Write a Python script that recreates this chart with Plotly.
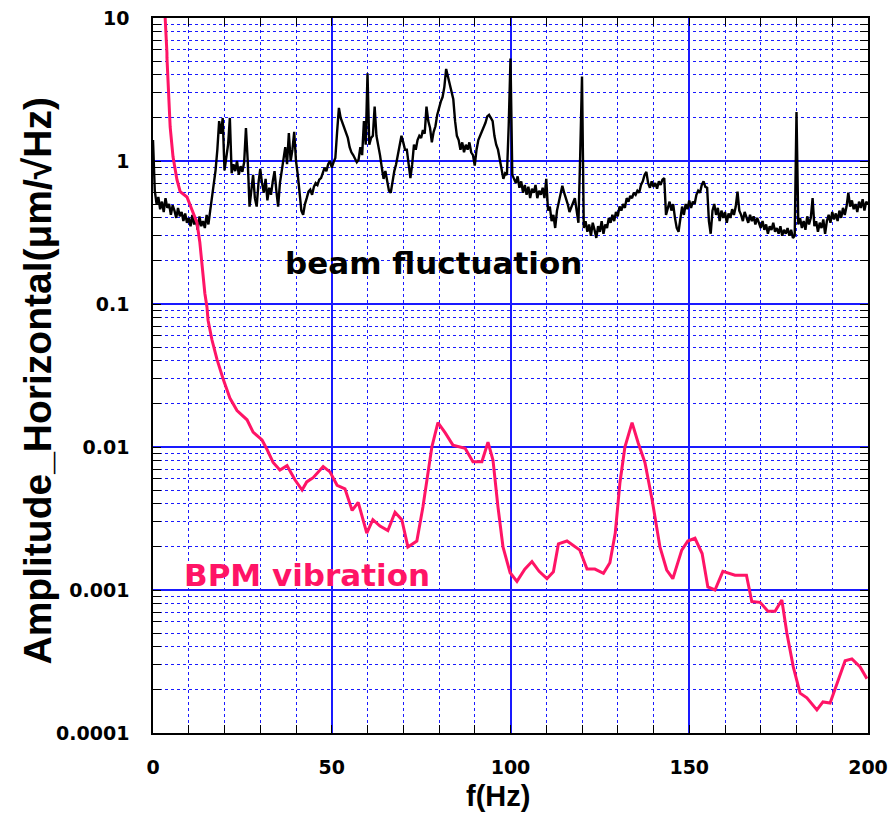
import plotly.graph_objects as go

# ---------------- data ----------------
# beam fluctuation: amplitude sampled every 0.5 Hz from 0 to 200 Hz
beam_amp = [
    1.40, 0.62, 0.50, 0.56, 0.46, 0.52, 0.44, 0.55, 0.47, 0.50, 0.42, 0.49, 0.45, 0.40, 0.47, 0.41, 0.44, 0.38, 0.43, 0.37,
    0.40, 0.35, 0.42, 0.36, 0.39, 0.33, 0.41, 0.35, 0.38, 0.34, 0.42, 0.36, 0.45, 0.55, 0.70, 0.86, 1.20, 1.90, 1.55, 2.00,
    0.86, 1.05, 1.30, 2.00, 0.82, 0.95, 0.85, 1.00, 0.80, 0.92, 0.84, 0.98, 1.70, 1.00, 0.48, 0.62, 0.80, 0.55, 0.48, 0.70,
    0.88, 0.70, 0.60, 0.75, 0.53, 0.65, 0.58, 0.72, 0.85, 0.62, 0.48, 0.70, 0.86, 1.05, 1.25, 0.95, 1.57, 1.00, 1.20, 1.60,
    1.00, 0.80, 0.60, 0.45, 0.42, 0.50, 0.55, 0.61, 0.63, 0.58, 0.66, 0.70, 0.68, 0.74, 0.76, 0.82, 0.90, 0.85, 0.95, 1.00,
    0.90, 0.98, 1.05, 1.60, 2.35, 2.00, 1.85, 1.70, 1.55, 1.45, 1.25, 1.15, 1.10, 1.05, 0.98, 1.02, 1.25, 1.10, 1.90, 1.30,
    4.10, 1.30, 1.45, 1.50, 2.40, 1.50, 1.30, 1.10, 0.90, 0.75, 0.85, 0.70, 0.62, 0.60, 0.72, 0.85, 0.95, 1.10, 1.25, 1.50,
    1.35, 1.20, 1.20, 0.95, 0.76, 0.95, 1.30, 1.20, 1.40, 1.50, 1.45, 1.65, 1.55, 2.40, 1.90, 1.70, 1.35, 1.60, 1.75, 2.10,
    2.40, 2.60, 2.80, 3.30, 4.40, 3.90, 3.50, 3.00, 2.70, 1.90, 1.50, 1.40, 1.20, 1.35, 1.15, 1.30, 1.20, 1.35, 1.15, 1.10,
    0.93, 1.20, 1.40, 1.50, 1.60, 1.70, 1.85, 2.05, 2.10, 2.00, 1.90, 1.50, 1.30, 1.20, 1.00, 0.88, 0.75, 0.82, 0.80, 1.78,
    5.20, 0.80, 0.75, 0.70, 0.78, 0.65, 0.72, 0.60, 0.68, 0.58, 0.66, 0.55, 0.64, 0.60, 0.68, 0.55, 0.62, 0.58, 0.65, 0.55,
    0.75, 0.45, 0.48, 0.38, 0.42, 0.34, 0.45, 0.52, 0.60, 0.67, 0.60, 0.55, 0.50, 0.44, 0.48, 0.52, 0.55, 0.45, 0.37, 1.10,
    3.90, 0.34, 0.38, 0.32, 0.36, 0.30, 0.37, 0.33, 0.29, 0.35, 0.32, 0.38, 0.31, 0.36, 0.34, 0.40, 0.37, 0.42, 0.38, 0.44,
    0.41, 0.48, 0.45, 0.50, 0.47, 0.55, 0.52, 0.57, 0.55, 0.60, 0.58, 0.62, 0.60, 0.68, 0.72, 0.80, 0.84, 0.70, 0.65, 0.72,
    0.66, 0.70, 0.64, 0.72, 0.68, 0.74, 0.76, 0.42, 0.47, 0.52, 0.45, 0.50, 0.40, 0.34, 0.32, 0.40, 0.48, 0.42, 0.50, 0.46,
    0.53, 0.47, 0.52, 0.50, 0.58, 0.62, 0.60, 0.68, 0.72, 0.66, 0.65, 0.38, 0.31, 0.45, 0.50, 0.42, 0.47, 0.38, 0.45, 0.40,
    0.44, 0.37, 0.43, 0.40, 0.46, 0.42, 0.48, 0.61, 0.45, 0.42, 0.38, 0.44, 0.40, 0.37, 0.42, 0.38, 0.41, 0.36, 0.40, 0.37,
    0.34, 0.38, 0.33, 0.36, 0.31, 0.35, 0.33, 0.37, 0.32, 0.34, 0.31, 0.35, 0.30, 0.33, 0.31, 0.34, 0.30, 0.33, 0.29, 0.30,
    2.20, 0.36, 0.40, 0.34, 0.38, 0.33, 0.41, 0.36, 0.40, 0.55, 0.35, 0.38, 0.32, 0.37, 0.34, 0.39, 0.31, 0.38, 0.42, 0.37,
    0.44, 0.39, 0.43, 0.38, 0.45, 0.40, 0.47, 0.42, 0.48, 0.60, 0.48, 0.53, 0.46, 0.50, 0.44, 0.52, 0.47, 0.54, 0.45, 0.52,
    0.50,
]
beam_freq = [i * 0.5 for i in range(len(beam_amp))]

# BPM vibration
bpm_freq = [3.0, 3.4, 3.9, 3.9, 4.8, 5.6, 6.7, 7.6, 9.5, 10.9, 12.3, 13.1, 14.5, 15.1, 15.4,
            16.5, 17.9, 19.6, 21.5, 23.5, 26.3, 28.0, 30.5, 31.9, 33.6, 35.5, 37.5, 39.7,
            41.7, 43.0, 44.8, 47.6, 49.5, 51.5, 53.7, 55.7, 57.4, 59.8, 61.5, 63.5, 65.7,
            67.7, 69.6, 71.3, 73.8, 75.5, 76.6, 78.0, 79.7, 81.7, 83.9, 87.3, 89.5, 92.0,
            93.7, 95.1, 96.5, 97.9, 99.9, 101.8, 104.0, 106.0, 108.0, 110.2, 112.0, 113.4,
            115.8, 119.4, 121.4, 123.6, 126.0, 127.8, 129.3, 130.6, 132.0, 134.0, 135.7,
            137.6, 139.6, 141.8, 143.7, 145.4, 147.9, 149.6, 151.6, 153.6, 155.2, 157.2,
            159.4, 162.8, 166.0, 167.5, 169.8, 172.0, 174.0, 175.9, 177.3, 179.1, 181.0,
            182.9, 185.7, 187.4, 189.4, 191.3, 193.6, 195.5, 197.8, 199.7]
bpm_amp = [12.0, 10.0, 5.7, 5.3, 1.73, 1.07, 0.74, 0.61, 0.56, 0.45, 0.37, 0.27, 0.119, 0.095, 0.077,
           0.056, 0.041, 0.030, 0.022, 0.018, 0.0155, 0.0127, 0.0112, 0.0096, 0.0078, 0.0069,
           0.0074, 0.0059, 0.0050, 0.0057, 0.0061, 0.0073, 0.0067, 0.0054, 0.0051, 0.0036,
           0.0041, 0.0025, 0.0031, 0.0028, 0.0026, 0.0035, 0.0031, 0.0020, 0.0022, 0.0038,
           0.0059, 0.0100, 0.0148, 0.0126, 0.0103, 0.0098, 0.0079, 0.0079, 0.0108, 0.0081,
           0.0038, 0.0020, 0.00132, 0.00115, 0.0014, 0.00158, 0.00135, 0.0012, 0.00134,
           0.0021, 0.0022, 0.0019, 0.0014, 0.0014, 0.00131, 0.00155, 0.0025, 0.0056, 0.0100,
           0.0148, 0.0107, 0.0078, 0.0043, 0.0020, 0.00138, 0.0012, 0.0019, 0.0022, 0.0023,
           0.0018, 0.00105, 0.0010, 0.00135, 0.00127, 0.00127, 0.00083, 0.00082, 0.00071,
           0.00071, 0.00085, 0.00050, 0.00029, 0.00019, 0.000176, 0.000145, 0.000165,
           0.000162, 0.00022, 0.00032, 0.00033, 0.00029, 0.00024]

y_tickvals = [10, 1, 0.1, 0.01, 0.001, 0.0001]
y_ticktext = ["10", "1", "0.1", "0.01", "0.001", "0.0001"]
x_tickvals = [0, 50, 100, 150, 200]

# ---------------- figure ----------------
BLUE = "#1a1aff"
PINK = "#ff1466"

fig = go.Figure()
fig.add_trace(go.Scatter(x=beam_freq, y=beam_amp, mode="lines",
                         line=dict(color="black", width=2.4), showlegend=False))
fig.add_trace(go.Scatter(x=bpm_freq, y=bpm_amp, mode="lines",
                         line=dict(color=PINK, width=3), showlegend=False))

fig.add_annotation(x=36.4, y=-0.713, xref="x", yref="y", text="<b>beam fluctuation</b>",
                   showarrow=False, xanchor="left", yanchor="middle",
                   font=dict(family="DejaVu Sans", size=31, color="black"))
fig.add_annotation(x=8.1, y=-2.895, xref="x", yref="y", text="<b>BPM vibration</b>",
                   showarrow=False, xanchor="left", yanchor="middle",
                   font=dict(family="DejaVu Sans", size=31, color=PINK))

# axis titles as annotations for precise placement
fig.add_annotation(x=0, y=0.5, xref="paper", yref="paper", xshift=-116, yshift=-6,
                   text="Amplitude_Horizontal(μm/√Hz)", textangle=-90, showarrow=False,
                   xanchor="center", yanchor="middle",
                   font=dict(family="Liberation Sans", size=39, color="black", weight="bold"))
fig.add_annotation(x=0.5, y=0, xref="paper", yref="paper", xshift=-13, yshift=-63,
                   text="<b>f(Hz)</b>", showarrow=False,
                   xanchor="center", yanchor="middle",
                   font=dict(family="Liberation Sans", size=29, color="black"))

tickfont = dict(family="DejaVu Sans", size=19, color="black", weight="bold")

fig.update_xaxes(
    range=[0, 200], tickvals=x_tickvals, ticktext=[str(v) for v in x_tickvals],
    showgrid=True, gridcolor=BLUE, gridwidth=1.5,
    ticks="inside", ticklen=8, tickcolor="black",
    minor=dict(dtick=10, showgrid=True, gridcolor=BLUE, griddash="dot", gridwidth=1,
               ticks="inside", ticklen=8, tickcolor="black"),
    showline=True, linecolor="black", linewidth=1.5, mirror="ticks",
    zeroline=False, ticklabelstandoff=16, automargin=False, ticklabeloverflow="allow",
    tickfont=tickfont,
)
fig.update_yaxes(
    type="log", range=[-4, 1], tickvals=y_tickvals, ticktext=y_ticktext,
    showgrid=True, gridcolor=BLUE, gridwidth=1.5,
    ticks="inside", ticklen=8, tickcolor="black",
    minor=dict(dtick="D1", showgrid=True, gridcolor=BLUE, griddash="dot", gridwidth=1,
               ticks="inside", ticklen=8, tickcolor="black"),
    showline=True, linecolor="black", linewidth=1.5, mirror="ticks",
    zeroline=False, ticklabelstandoff=18, automargin=False, ticklabeloverflow="allow",
    tickfont=tickfont,
)

# the page adds an 8 px body margin, so the margins are offset by 8 px
fig.update_layout(
    width=896, height=813,
    margin=dict(l=145, r=36, t=10, b=88, autoexpand=False),
    paper_bgcolor="white", plot_bgcolor="white",
)

fig.write_html("out.html")
